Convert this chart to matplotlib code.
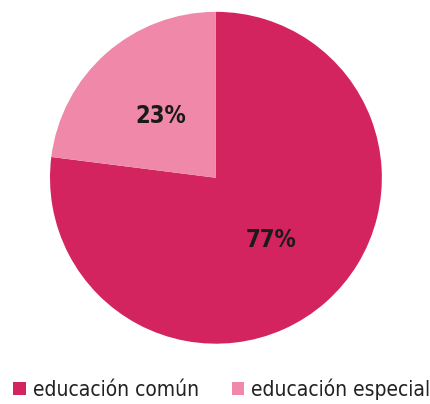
import matplotlib.pyplot as plt
from matplotlib.font_manager import FontProperties

categorias = ['educación común', 'educación especial']
valores = [77, 23]
colores = ['#D3245F', '#F088A9']

plt.rcParams['font.family'] = ['DejaVu Sans']

fig = plt.figure(figsize=(4.31, 4.04), dpi=100)
ax = fig.add_axes([0.116, 0.149, 0.770, 0.822])

wedges, textos, autotextos = ax.pie(valores, colors=colores, startangle=90, counterclock=False,
                                    autopct='%d%%', pctdistance=0.5, radius=1.0)
for t in autotextos:
    t.set_fontproperties(FontProperties(family='DejaVu Sans', stretch='condensed', weight='bold', size=17))
    t.set_color('#1a1a1a')
ax.set_xlim(-1, 1)
ax.set_ylim(-1, 1)
ax.set_aspect('equal')

fig.legend(wedges, categorias, loc='center', bbox_to_anchor=(0.515, 0.037), ncol=2, frameon=False,
           prop=FontProperties(family='DejaVu Sans', stretch='condensed', size=15),
           handlelength=0.6, handleheight=0.6, handletextpad=0.35, columnspacing=1.55,
           labelcolor='#222222')

plt.savefig('out.png', dpi=100)
